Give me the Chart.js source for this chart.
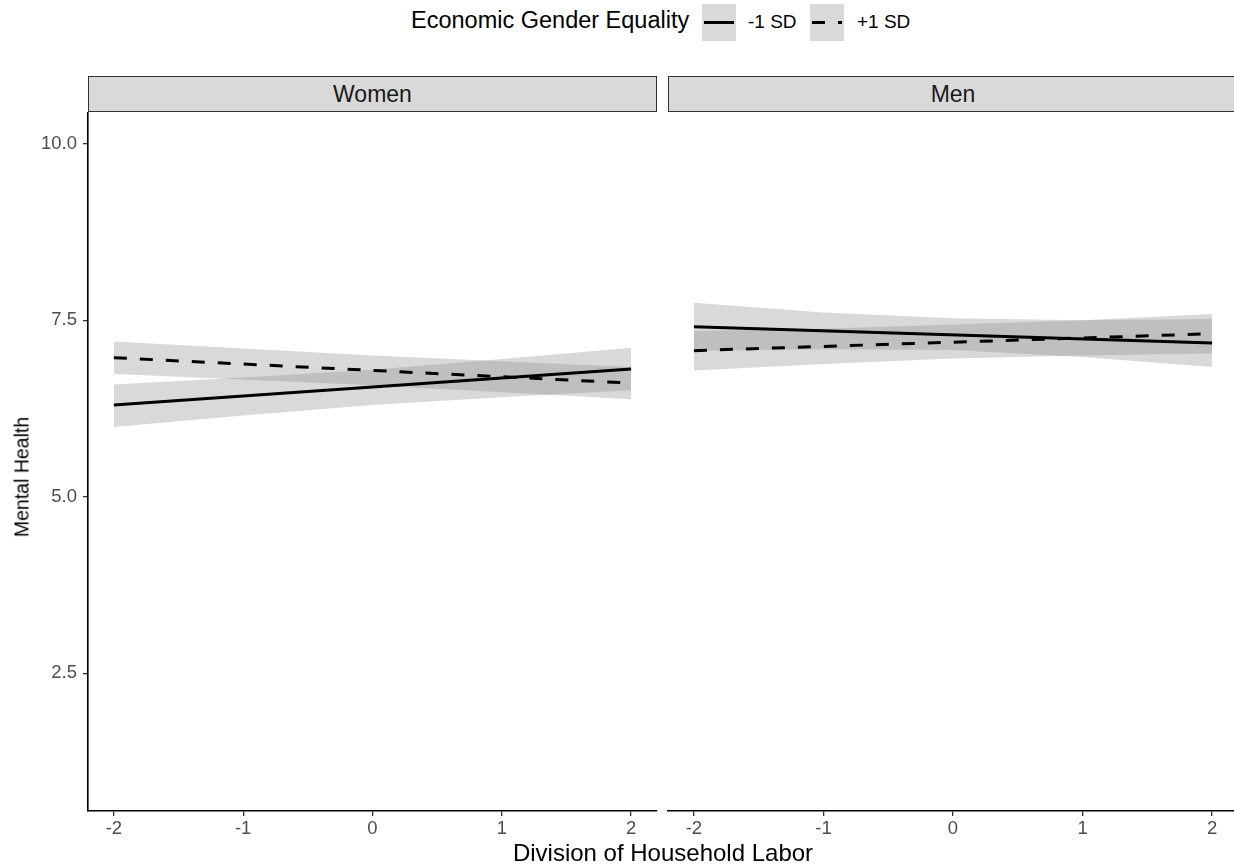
<!DOCTYPE html>
<html lang="en">
<head>
  <meta charset="UTF-8" />
  <title>Mental Health by Division of Household Labor</title>
  <script src="https://cdn.jsdelivr.net/npm/chart.js"></script>
  <style>
    html, body { margin: 0; padding: 0; background: #fff; }
    #wrap { position: relative; width: 1234px; height: 866px; overflow: hidden; font-family: "Liberation Sans", Arial, sans-serif; }
    canvas { position: absolute; }
    .strip { position: absolute; top: 76px; height: 36px; box-sizing: border-box; border: 1px solid #333;
             background: #d9d9d9; color: #1a1a1a; font-size: 23px; text-align: center; line-height: 34px; }
    .txt { position: absolute; white-space: nowrap; }
    .key { position: absolute; top: 4px; width: 34px; height: 37px; background: #d9d9d9; }
    .seg { position: absolute; height: 3px; background: #000; top: 17px; }
  </style>
</head>
<body>
<div id="wrap">
  <!-- legend -->
  <div class="txt" style="left:411px; top:7px; font-size:23.5px; color:#000;">Economic Gender Equality</div>
  <div class="key" style="left:702px;"><div class="seg" style="left:2px; width:30px;"></div></div>
  <div class="txt" style="left:748px; top:11px; font-size:19px; color:#000;">-1 SD</div>
  <div class="key" style="left:810px;">
    <div class="seg" style="left:2px; width:13px;"></div>
    <div class="seg" style="left:28px; width:4px;"></div>
  </div>
  <div class="txt" style="left:857px; top:11px; font-size:19px; color:#000;">+1 SD</div>

  <!-- facet strips -->
  <div class="strip" style="left:88px; width:569px;">Women</div>
  <div class="strip" style="left:668px; width:570px;">Men</div>

  <canvas id="women" width="660" height="754" style="left:0; top:112px;"></canvas>
  <canvas id="men" width="580" height="754" style="left:660px; top:112px;"></canvas>

  <!-- axis titles -->
  <div class="txt" style="left:22px; top:477px; font-size:19.5px; transform:translate(-50%,-50%) rotate(-90deg);">Mental Health</div>
  <div class="txt" style="left:663px; top:853px; font-size:24px; transform:translate(-50%,-50%);">Division of Household Labor</div>
</div>

<script>
  // x positions
  const lineX = [-2, 2];
  const bandX = [-2, -1, 0, 1, 2];
  const xTicks = [-2, -1, 0, 1, 2];
  const yTicks = [2.5, 5.0, 7.5, 10.0];

  // Women: -1 SD (solid) and +1 SD (dashed)
  const womenLow = [6.30, 6.81];
  const womenHigh = [6.97, 6.61];
  const womenLowUpper = [6.59, 6.69, 6.80, 6.95, 7.11];
  const womenLowLower = [5.99, 6.15, 6.30, 6.41, 6.51];
  const womenHighUpper = [7.20, 7.10, 7.00, 6.92, 6.84];
  const womenHighLower = [6.74, 6.66, 6.58, 6.48, 6.38];

  // Men
  const menLow = [7.41, 7.18];
  const menHigh = [7.07, 7.31];
  const menLowUpper = [7.75, 7.61, 7.53, 7.50, 7.52];
  const menLowLower = [7.07, 7.09, 7.08, 6.98, 6.84];
  const menHighUpper = [7.35, 7.38, 7.44, 7.50, 7.59];
  const menHighLower = [6.79, 6.88, 6.96, 7.00, 7.03];

  const bandColor = 'rgba(128,128,128,0.3)';

  function pts(xs, ys) {
    return xs.map((x, i) => ({ x: x, y: ys[i] }));
  }

  function band(upper, lower) {
    return [
      { data: pts(bandX, upper), borderWidth: 0, pointRadius: 0, backgroundColor: bandColor, fill: '+1', order: 2 },
      { data: pts(bandX, lower), borderWidth: 0, pointRadius: 0, backgroundColor: bandColor, fill: false, order: 2 }
    ];
  }

  function line(ys, dashed) {
    return {
      data: pts(lineX, ys),
      borderColor: '#000',
      borderWidth: 3,
      borderDash: dashed ? [13, 13] : [],
      pointRadius: 0,
      fill: false,
      order: 0
    };
  }

  function noPad(s) {
    s.paddingTop = 0; s.paddingBottom = 0; s.paddingLeft = 0; s.paddingRight = 0;
  }

  function makeChart(id, d, showY, pad) {
    new Chart(document.getElementById(id), {
      type: 'line',
      data: {
        datasets: [
          ...band(d.lowUpper, d.lowLower),
          ...band(d.highUpper, d.highLower),
          line(d.low, false),
          line(d.high, true)
        ]
      },
      options: {
        responsive: false,
        animation: false,
        devicePixelRatio: 1,
        layout: { padding: pad },
        plugins: { legend: { display: false }, tooltip: { enabled: false } },
        scales: {
          x: {
            type: 'linear',
            min: -2.2,
            max: 2.2,
            afterBuildTicks: s => { s.ticks = xTicks.map(v => ({ value: v })); },
            afterFit: s => { s.height = 55; noPad(s); },
            ticks: { color: '#4d4d4d', font: { family: 'Liberation Sans', size: 18.5 }, padding: 2, maxRotation: 0 },
            grid: { display: true, drawOnChartArea: false, drawTicks: true, tickLength: 5, color: '#333', lineWidth: 1.3 },
            border: { display: true, color: '#000', width: 1.6 }
          },
          y: {
            display: showY,
            min: 0.55,
            max: 10.45,
            afterBuildTicks: s => { s.ticks = yTicks.map(v => ({ value: v })); },
            afterFit: s => { if (showY) s.width = 88; noPad(s); },
            ticks: { color: '#4d4d4d', font: { family: 'Liberation Sans', size: 18.5 }, padding: 6,
                     callback: v => v.toFixed(1) },
            grid: { display: true, drawOnChartArea: false, drawTicks: true, tickLength: 5, color: '#333', lineWidth: 1.3 },
            border: { display: true, color: '#000', width: 1.6 }
          }
        }
      }
    });
  }

  makeChart('women', {
    low: womenLow, high: womenHigh,
    lowUpper: womenLowUpper, lowLower: womenLowLower,
    highUpper: womenHighUpper, highLower: womenHighLower
  }, true, { left: 0, right: 3, top: 0, bottom: 0 });

  makeChart('men', {
    low: menLow, high: menHigh,
    lowUpper: menLowUpper, lowLower: menLowLower,
    highUpper: menHighUpper, highLower: menHighLower
  }, false, { left: 8, right: 2, top: 0, bottom: 0 });
</script>
</body>
</html>
